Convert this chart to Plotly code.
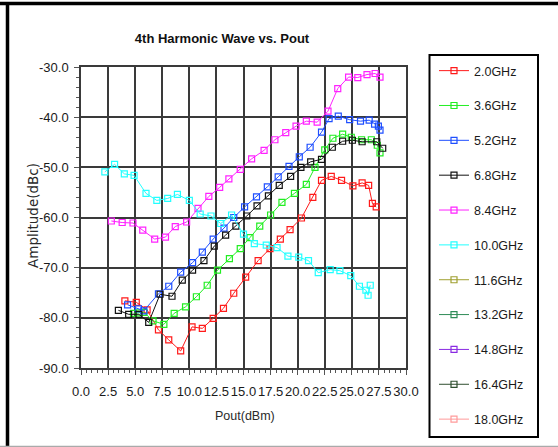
import plotly.graph_objects as go

# ---------------- data ----------------
names = ["2.0GHz", "3.6GHz", "5.2GHz", "6.8GHz", "8.4GHz", "10.0GHz",
         "11.6GHz", "13.2GHz", "14.8GHz", "16.4GHz", "18.0GHz"]
colors = ["#ff1a1a", "#22ee22", "#1f4fff", "#111111", "#ff22ff", "#22ffff",
          "#a0a030", "#2e8b57", "#8a2be2", "#2f4f2f", "#ff9a9a"]

x_2g0 = [4.05, 5.1, 6.1, 7.15, 8.1, 9.2, 10.25, 11.2, 12.2, 13.15, 14.1, 15.2, 16.35,
         17.45, 18.4, 19.3, 20.35, 21.4, 22.2, 23.1, 24.05, 25.1, 25.95, 26.55, 26.9, 27.25]
y_2g0 = [-76.6, -76.9, -78.4, -82.4, -84.4, -86.6, -81.8, -82.1, -80.1, -78.1, -75.1, -71.9, -68.6,
         -66.2, -64.3, -62.4, -60.1, -56.0, -52.6, -51.8, -52.6, -53.7, -53.1, -53.6, -57.2, -57.9]

x_3g6 = [4.85, 5.3, 5.8, 6.65, 7.65, 8.6, 9.65, 10.65, 11.65, 12.6, 13.7, 14.7, 15.6, 16.5,
         17.5, 18.55, 19.7, 20.8, 21.6, 22.5, 23.25, 24.15, 24.95, 25.9, 26.8, 27.35, 27.6]
y_3g6 = [-79.1, -79.0, -78.9, -80.6, -81.3, -79.1, -77.8, -75.8, -73.5, -70.5, -68.2, -66.2, -64.0, -61.7,
         -59.5, -57.0, -55.2, -53.4, -50.0, -46.5, -44.2, -43.4, -44.0, -44.5, -44.5, -45.6, -47.1]

x_5g2 = [4.3, 5.3, 5.8, 7.15, 8.1, 9.2, 10.3, 11.2, 12.2, 13.2, 14.1, 15.1, 16.2, 17.2,
         18.2, 19.2, 20.15, 21.15, 22.2, 22.9, 23.75, 24.8, 25.8, 26.6, 27.1, 27.45, 27.6]
y_5g2 = [-77.4, -78.2, -78.6, -75.2, -73.7, -70.9, -69.0, -66.9, -64.3, -62.1, -60.0, -57.9, -55.9, -53.9,
         -51.9, -49.8, -47.9, -46.0, -43.0, -40.3, -39.8, -40.5, -40.8, -40.6, -41.4, -41.8, -42.6]

x_6g8 = [3.45, 4.4, 5.35, 6.25, 7.3, 8.4, 9.35, 10.3, 11.35, 12.3, 13.35, 14.3, 15.3,
         16.25, 17.3, 18.3, 19.35, 20.3, 21.2, 22.2, 23.2, 24.15, 25.05, 25.95, 27.3, 27.85]
y_6g8 = [-78.5, -79.3, -79.3, -80.9, -75.3, -75.7, -72.5, -70.5, -68.6, -65.7, -63.5, -61.7, -59.7,
         -57.7, -55.7, -53.6, -51.8, -50.0, -48.9, -48.4, -46.0, -44.8, -44.6, -44.9, -44.9, -46.2]

x_8g4 = [2.8, 3.8, 4.8, 5.7, 6.8, 7.8, 8.7, 9.75, 10.8, 11.8, 12.8, 13.65, 14.7, 15.75,
         16.9, 17.9, 18.9, 19.85, 20.8, 21.8, 22.8, 23.7, 24.7, 25.55, 26.4, 27.15, 27.6]
y_8g4 = [-60.7, -61.0, -61.1, -62.5, -64.3, -63.9, -61.8, -60.9, -58.2, -55.8, -54.0, -52.3, -50.4, -48.3,
         -46.6, -44.5, -43.1, -41.8, -40.8, -41.0, -38.8, -34.3, -32.0, -32.1, -31.5, -31.3, -32.0]

x_10g0 = [2.2, 3.1, 4.0, 4.9, 6.0, 7.0, 8.0, 8.9, 10.0, 11.0, 12.0, 12.9, 13.9, 15.0,
          16.0, 17.1, 18.1, 19.1, 20.1, 21.0, 21.9, 23.0, 23.9, 24.9, 25.7, 26.3, 26.5, 26.7]
y_10g0 = [-50.9, -49.4, -51.3, -51.6, -55.2, -56.6, -56.2, -55.4, -56.6, -59.3, -59.7, -61.2, -59.5, -63.3,
          -65.2, -65.5, -66.0, -67.7, -67.9, -68.6, -71.0, -70.4, -70.6, -71.6, -73.7, -74.5, -75.5, -73.5]

series_x = [x_2g0, x_3g6, x_5g2, x_6g8, x_8g4, x_10g0, [], [], [], [], []]
series_y = [y_2g0, y_3g6, y_5g2, y_6g8, y_8g4, y_10g0, [], [], [], [], []]

x_ticks = [0.0, 2.5, 5.0, 7.5, 10.0, 12.5, 15.0, 17.5, 20.0, 22.5, 25.0, 27.5, 30.0]
x_tick_labels = ["0.0", "2.5", "5.0", "7.5", "10.0", "12.5", "15.0", "17.5", "20.0",
                 "22.5", "25.0", "27.5", "30.0"]
y_ticks = [-90.0, -80.0, -70.0, -60.0, -50.0, -40.0, -30.0]
y_tick_labels = ["-90.0", "-80.0", "-70.0", "-60.0", "-50.0", "-40.0", "-30.0"]

# ---------------- layout helpers ----------------
W, H = 558, 447
L, R, T, B = 81, 152, 67, 79
PW, PH = W - L - R, H - T - B


def px(xp):
    return (xp - L) / PW


def py(yp):
    return (H - B - yp) / PH


FONT = "Liberation Sans, Arial, sans-serif"

fig = go.Figure()
for n, c, xs, ys in zip(names, colors, series_x, series_y):
    fig.add_trace(go.Scatter(
        x=xs if xs else [None], y=ys if ys else [None], name=n, mode="lines+markers",
        legendgroup=n,
        line=dict(color=c, width=1),
        marker=dict(symbol="square-open", size=6, color=c, line=dict(width=1.2, color=c)),
    ))

axis_common = dict(
    showline=True, mirror=True, linecolor="#3a3a3a", linewidth=1.5,
    showgrid=True, gridcolor="#3a3a3a", gridwidth=1.5, zeroline=False,
    ticks="outside", ticklen=5, tickcolor="#555", tickwidth=1,
    tickfont=dict(family=FONT, size=13, color="#1a1a1a"),
    tickangle=0,
)

fig.update_xaxes(range=[0, 30], tickvals=x_ticks, ticktext=x_tick_labels, ticklabelstandoff=6,
                 minor=dict(dtick=0.5, ticks="outside", ticklen=3, tickcolor="#555", showgrid=False),
                 **axis_common)
fig.update_yaxes(range=[-90, -30], tickvals=y_ticks, ticktext=y_tick_labels, ticklabelstandoff=3,
                 minor=dict(dtick=2, ticks="outside", ticklen=3, tickcolor="#555", showgrid=False),
                 **axis_common)

shapes = [
    # legend box
    dict(type="rect", xref="paper", yref="paper", x0=px(429.5), x1=px(538), y0=py(437), y1=py(55),
         line=dict(color="black", width=2)),
    # outer frame
    dict(type="line", xref="paper", yref="paper", x0=px(0), x1=px(558), y0=py(3.5), y1=py(3.5),
         line=dict(color="black", width=3.5)),
    dict(type="line", xref="paper", yref="paper", x0=px(7.5), x1=px(7.5), y0=py(3), y1=py(446),
         line=dict(color="black", width=3.5)),
    dict(type="line", xref="paper", yref="paper", x0=px(0), x1=px(558), y0=py(446.5), y1=py(446.5),
         line=dict(color="#aaaaaa", width=1.5)),
]

annotations = [
    dict(text="Amplitude(dBc)", xref="paper", yref="paper", x=px(33), y=py(215),
         textangle=-90, showarrow=False, xanchor="center", yanchor="middle",
         font=dict(family="DejaVu Sans, Verdana, sans-serif", size=13.5, color="#2a2a2a")),
    dict(text="Pout(dBm)", xref="paper", yref="paper", x=px(245), y=py(416),
         showarrow=False, xanchor="center", yanchor="middle",
         font=dict(family=FONT, size=12.5, color="#2a2a2a")),
]

fig.update_layout(
    width=W, height=H,
    margin=dict(l=L, r=R, t=T, b=B),
    paper_bgcolor="white", plot_bgcolor="white",
    title=dict(text="<b>4th Harmonic Wave vs. Pout</b>", x=222 / W, y=1 - 38 / H,
               xref="container", yref="container", xanchor="center", yanchor="middle",
               font=dict(family=FONT, size=13, color="#111")),
    showlegend=True,
    legend=dict(x=px(434), y=py(56), xanchor="left", yanchor="top",
                bgcolor="rgba(0,0,0,0)", borderwidth=0, maxheight=420,
                font=dict(family=FONT, size=12.5, color="#1a1a1a"),
                tracegroupgap=15.6, itemwidth=30),
    shapes=shapes,
    annotations=annotations,
)

fig.write_html("out.html", config={"displayModeBar": False},
               post_script="document.body.style.margin='0';")
